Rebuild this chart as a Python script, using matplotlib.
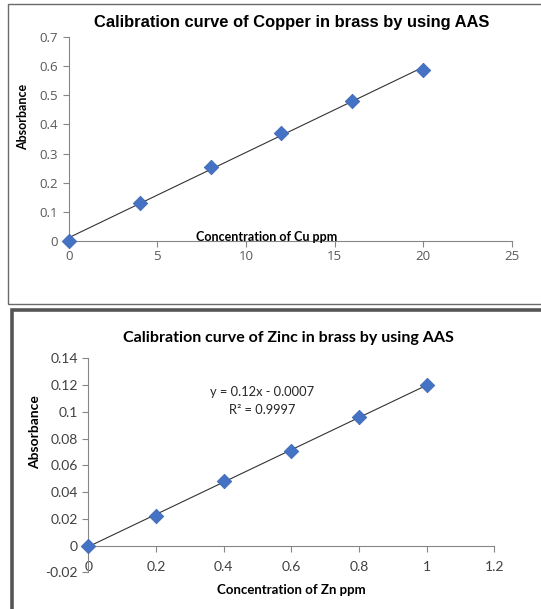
import numpy as np
import matplotlib
matplotlib.use("Agg")
import matplotlib.pyplot as plt
from matplotlib.patches import Rectangle

# copper standards
cu_conc = [0, 4, 8, 12, 16, 20]
cu_abs = [0.0, 0.129, 0.254, 0.372, 0.480, 0.588]
cu_xticks = [0, 5, 10, 15, 20, 25]
cu_yticks = [0, 0.1, 0.2, 0.3, 0.4, 0.5, 0.6, 0.7]
cu_ylabels = ["0", "0.1", "0.2", "0.3", "0.4", "0.5", "0.6", "0.7"]

# zinc standards
zn_conc = [0, 0.2, 0.4, 0.6, 0.8, 1.0]
zn_abs = [0.0, 0.022, 0.048, 0.071, 0.096, 0.120]
zn_xticks = [0, 0.2, 0.4, 0.6, 0.8, 1.0, 1.2]
zn_xlabels = ["0", "0.2", "0.4", "0.6", "0.8", "1", "1.2"]
zn_yticks = [-0.02, 0, 0.02, 0.04, 0.06, 0.08, 0.1, 0.12, 0.14]
zn_ylabels = ["-0.02", "0", "0.02", "0.04", "0.06", "0.08", "0.1", "0.12", "0.14"]

W, H = 541, 609
fig = plt.figure(figsize=(W / 100, H / 100), dpi=100)
fig.patch.set_facecolor("white")


def fx(px):
    return px / W


def fy(py):
    return 1 - py / H


marker_col = "#4472C4"
edge_col = "#3A64AE"
spine_col = "#868686"

# frames around the two charts
fig.patches.append(Rectangle((fx(7.5), fy(303.5)), 1.0, fy(4) - fy(303.5),
                             transform=fig.transFigure, fill=False,
                             edgecolor="#6a6a6a", linewidth=1.0))
fig.patches.append(Rectangle((fx(12), 0 - 0.05), 1.0, fy(309.5) + 0.05,
                             transform=fig.transFigure, fill=False,
                             edgecolor="#555555", linewidth=2.6))

# ---------- top: copper ----------
ax1 = fig.add_axes([fx(68.7), fy(240.7), fx(512) - fx(68.7), fy(37.3) - fy(240.7)])
ax1.scatter(cu_conc, cu_abs, marker="D", s=55, color=marker_col,
            edgecolor=edge_col, linewidth=0.5, zorder=3, clip_on=False)
m, b = np.polyfit(cu_conc, cu_abs, 1)
xs = np.array([cu_conc[0], cu_conc[-1]])
ax1.plot(xs, m * xs + b, color="#333333", linewidth=0.8, zorder=2)
ax1.set_xlim(0, 25)
ax1.set_ylim(0, 0.7)
ax1.set_xticks(cu_xticks)
ax1.set_yticks(cu_yticks)
ax1.set_yticklabels(cu_ylabels)
for s in ["top", "right"]:
    ax1.spines[s].set_visible(False)
for s in ["left", "bottom"]:
    ax1.spines[s].set_color(spine_col)
ax1.tick_params(colors=spine_col, labelcolor="#595959", length=4, width=0.8,
                labelsize=9.5)
for lab in ax1.get_xticklabels() + ax1.get_yticklabels():
    lab.set_family("Open Sans")
ax1.tick_params(axis="x", pad=3)

fig.text(fx(292), fy(23), "Calibration curve of Copper in brass by using AAS",
         ha="center", va="center", fontsize=11.9, fontweight="bold",
         family="Liberation Sans", color="black")
fig.text(fx(22.7), fy(116.7), "Absorbance", rotation=90, ha="center",
         va="center", fontsize=9, fontweight="bold", family="Lato")
fig.text(fx(267), fy(240.8), "Concentration of Cu ppm", ha="center",
         va="baseline", fontsize=9, fontweight="bold", family="Lato")

# ---------- bottom: zinc ----------
ax2 = fig.add_axes([fx(88.3), fy(572.3), fx(494.3) - fx(88.3), fy(358.3) - fy(572.3)])
ax2.scatter(zn_conc, zn_abs, marker="D", s=55, color=marker_col,
            edgecolor=edge_col, linewidth=0.5, zorder=3, clip_on=False)
m2, b2 = np.polyfit(zn_conc, zn_abs, 1)
xs2 = np.array([zn_conc[0], zn_conc[-1]])
ax2.plot(xs2, m2 * xs2 + b2, color="#333333", linewidth=0.8, zorder=2)
ax2.set_xlim(0, 1.2)
ax2.set_ylim(-0.02, 0.14)
ax2.set_xticks(zn_xticks)
ax2.set_xticklabels(zn_xlabels)
ax2.set_yticks(zn_yticks)
ax2.set_yticklabels(zn_ylabels)
ax2.spines["bottom"].set_position(("data", 0))
for s in ["top", "right"]:
    ax2.spines[s].set_visible(False)
for s in ["left", "bottom"]:
    ax2.spines[s].set_color(spine_col)
ax2.tick_params(colors=spine_col, labelcolor="#404040", length=4, width=0.8,
                labelsize=10)
ax2.tick_params(axis="x", pad=7)
for lab in ax2.get_xticklabels() + ax2.get_yticklabels():
    lab.set_family("Lato")

fig.text(fx(288), fy(338.3), "Calibration curve of Zinc in brass by using AAS",
         ha="center", va="center", fontsize=11.5, fontweight="bold",
         family="Lato", color="black")
fig.text(fx(35), fy(431.7), "Absorbance", rotation=90, ha="center",
         va="center", fontsize=10, fontweight="bold", family="Lato")
fig.text(fx(291.7), fy(590), "Concentration of Zn ppm", ha="center",
         va="center", fontsize=9.5, fontweight="bold", family="Lato")
fig.text(fx(261.7), fy(392), "y = 0.12x - 0.0007", ha="center", va="center",
         fontsize=9.3, family="Lato", color="#262626")
fig.text(fx(261.7), fy(410.5), "R² = 0.9997", ha="center", va="center",
         fontsize=9.3, family="Lato", color="#262626")

fig.savefig("out.png", dpi=100, facecolor="white")
